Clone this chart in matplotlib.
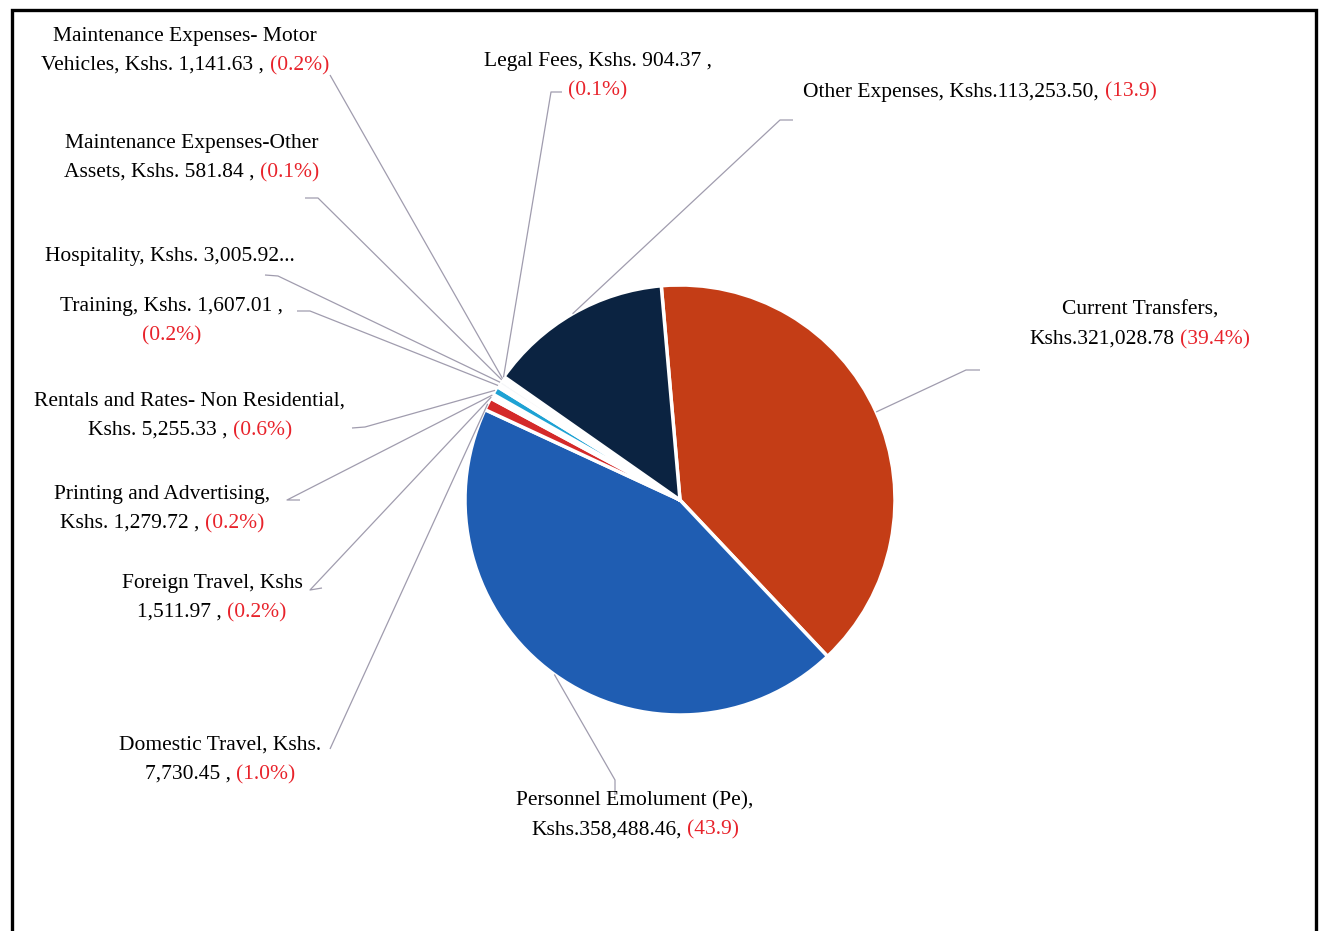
import numpy as np
import matplotlib
matplotlib.use("Agg")
import matplotlib.pyplot as plt
from matplotlib.offsetbox import TextArea, HPacker, VPacker, AnnotationBbox
from matplotlib.patches import Rectangle

# ---------------- data ----------------
categories = ["Current Transfers", "Personnel Emolument (Pe)", "Domestic Travel",
              "Foreign Travel", "Printing and Advertising",
              "Rentals and Rates- Non Residential", "Training", "Hospitality",
              "Maintenance Expenses-Other Assets", "Maintenance Expenses- Motor Vehicles",
              "Legal Fees", "Other Expenses"]
values = [321028.78, 358488.46, 7730.45, 1511.97, 1279.72, 5255.33,
          1607.01, 3005.92, 581.84, 1141.63, 904.37, 113253.50]
pct_labels = ["(39.4%)", "(43.9)", "(1.0%)", "(0.2%)", "(0.2%)", "(0.6%)",
              "(0.2%)", "", "(0.1%)", "(0.2%)", "(0.1%)", "(13.9)"]
label_templates = [
    "Current Transfers,\nKshs.{v} {p}",
    "Personnel Emolument (Pe),\nKshs.{v}, {p}",
    "Domestic Travel, Kshs.\n{v} , {p}",
    "Foreign Travel, Kshs\n{v} , {p}",
    "Printing and Advertising,\nKshs. {v} , {p}",
    "Rentals and Rates- Non Residential,\nKshs. {v} , {p}",
    "Training, Kshs. {v} ,\n{p}",
    "Hospitality, Kshs. {v}...",
    "Maintenance Expenses-Other\nAssets, Kshs. {v} , {p}",
    "Maintenance Expenses- Motor\nVehicles, Kshs. {v} , {p}",
    "Legal Fees, Kshs. {v} ,\n{p}",
    "Other Expenses, Kshs.{v}, {p}",
]

# ---------------- styles / layout ----------------
slice_colors = ["#c43d16", "#1f5db2", "#d42a2a", "#f6f7f9", "#f6f7f9", "#1ea2d4",
                "#f6f7f9", "#f6f7f9", "#f6f7f9", "#f6f7f9", "#f6f7f9", "#0b2341"]
W, H = 1319, 931
FONT = "Liberation Serif"
FS = 15.5
RED = "#e8232b"
LINE_C = "#a09cae"

def Y(py):
    return H - py

# label centre (px) and leader stub points (px)
label_pos = [(1140, 325), (635, 815), (220, 760), (212, 598), (162, 509), (190, 416),
             (172, 321), (170, 256), (192, 158), (185, 51), (598, 76), (980, 92)]
stubs = [[(980, 370), (966, 370)],
         [(615, 795), (615, 780)],
         [(330, 749)],
         [(322, 588), (310, 590)],
         [(300, 500), (287, 500)],
         [(352, 428), (365, 427)],
         [(297, 311), (310, 311)],
         [(265, 275), (278, 276)],
         [(305, 198), (318, 198)],
         [(330, 75)],
         [(562, 92), (551, 92)],
         [(793, 120), (780, 120)]]

fig = plt.figure(figsize=(W / 100, H / 100), dpi=100)
ax = fig.add_axes([0, 0, 1, 1])
ax.set_xlim(0, W)
ax.set_ylim(0, H)
ax.set_aspect("equal")
ax.axis("off")

cx, cy, R = 680, 500, 215
wedges, _ = ax.pie(values, colors=slice_colors, startangle=95, counterclock=False,
                   center=(cx, Y(cy)), radius=R, frame=True,
                   wedgeprops=dict(edgecolor="white", linewidth=2.5))
ax.set_xlim(0, W)
ax.set_ylim(0, H)
ax.axis("off")

for i, w in enumerate(wedges):
    mid = np.deg2rad((w.theta1 + w.theta2) / 2)
    ex, ey = cx + R * np.cos(mid), Y(cy) + R * np.sin(mid)
    pts = [(x, Y(y)) for x, y in stubs[i]] + [(ex, ey)]
    xs, ys = zip(*pts)
    ax.plot(xs, ys, color=LINE_C, lw=0.9, zorder=1, solid_capstyle="butt")

    text = label_templates[i].format(v=f"{values[i]:,.2f}", p="\x00")
    lines = []
    for ln in text.split("\n"):
        segs = []
        if "\x00" in ln:
            black, _rest = ln.split("\x00")
            black = black.rstrip()
            if black:
                segs.append(TextArea(black, textprops=dict(color="black", fontsize=FS, family=FONT)))
            segs.append(TextArea(pct_labels[i], textprops=dict(color=RED, fontsize=FS, family=FONT)))
        else:
            segs.append(TextArea(ln, textprops=dict(color="black", fontsize=FS, family=FONT)))
        lines.append(HPacker(children=segs, pad=0, sep=4, align="baseline"))
    box = VPacker(children=lines, pad=0, sep=7, align="center")
    lx, ly = label_pos[i]
    ab = AnnotationBbox(box, (lx, Y(ly)), xycoords="data", frameon=False,
                        box_alignment=(0.5, 0.5), pad=0)
    ax.add_artist(ab)

ax.add_patch(Rectangle((12, Y(960)), 1304, 950, fill=False, lw=2.4, ec="black",
                       clip_on=True))

fig.savefig("out.png", dpi=100)
